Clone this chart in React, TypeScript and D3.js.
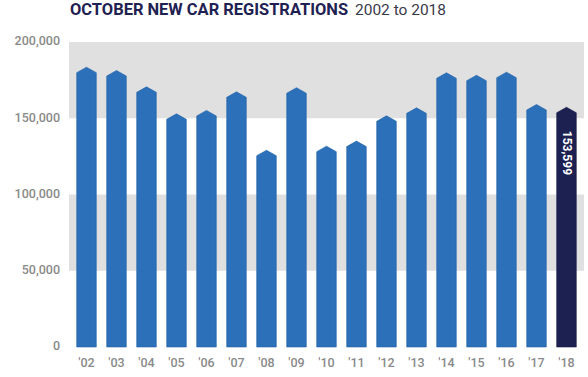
import React from "react";
import * as d3 from "d3";

const years = ["'02", "'03", "'04", "'05", "'06", "'07", "'08", "'09", "'10", "'11", "'12", "'13", "'14", "'15", "'16", "'17", "'18"];
const registrations = [179900, 177700, 167000, 149300, 151500, 163700, 125400, 166400, 128100, 131400, 148000, 153200, 176200, 174600, 176600, 155400, 153599];
const yTicks = [0, 50000, 100000, 150000, 200000];
const bandRanges: [number, number][] = [[50000, 100000], [150000, 200000]];
const titleBold = "OCTOBER NEW CAR REGISTRATIONS";
const titleRest = "2002 to 2018";
const highlightLabel = "153,599";

const W = 588;
const H = 377;

export default function App() {
  const x = d3.scaleBand<string>().domain(years).range([69, 584]).paddingInner(0.347).paddingOuter(0.257);
  const y = d3.scaleLinear().domain([0, 200000]).range([347, 42]);
  const fmt = d3.format(",");
  const bw = x.bandwidth();
  const tip = 5.5;
  const last = years.length - 1;

  return (
    <svg width={W} height={H} style={{ position: "absolute", left: 0, top: 0, background: "#fff" }} fontFamily="Roboto, 'DejaVu Sans', sans-serif">
      <text x={70} y={15} fontSize={16.8} fontWeight={700} fill="#1e2152" textLength={278} lengthAdjust="spacingAndGlyphs">
        {titleBold}
      </text>
      <text x={355} y={15} fontSize={15.5} fontWeight={400} fill="#3a3a4a" textLength={91} lengthAdjust="spacingAndGlyphs">
        {titleRest}
      </text>
      {bandRanges.map(([a, b], i) => (
        <rect key={i} x={69} y={y(b)} width={584 - 69} height={y(a) - y(b)} fill="#e1e0e1" />
      ))}
      {yTicks.map((t) => (
        <text key={t} x={60} y={y(t)} textAnchor="end" dominantBaseline="middle" fontSize={12.5} fontWeight={500} fill="#8a8a8a">
          {fmt(t)}
        </text>
      ))}
      {registrations.map((v, i) => {
        const x0 = x(years[i])!;
        const x1 = x0 + bw;
        const top = y(v);
        const base = y(0);
        const d = `M${x0},${base}L${x0},${top}L${x0 + bw / 2},${top - tip}L${x1},${top}L${x1},${base}Z`;
        const isLast = i === last;
        return (
          <path key={years[i]} d={d} fill={isLast ? "#1c2152" : "#2b70b8"} stroke={isLast ? "#161a45" : "#2463a8"} strokeWidth={0.6} />
        );
      })}
      {years.map((yr) => (
        <text key={yr} x={x(yr)! + bw / 2} y={367} textAnchor="middle" fontSize={12.5} fontWeight={500} fill="#8a8a8a">
          {yr}
        </text>
      ))}
      <text
        transform={`translate(${x(years[last])! + bw / 2},${y(registrations[last]) + 18}) rotate(90)`}
        textAnchor="start"
        dominantBaseline="middle"
        fontSize={12}
        fontWeight={700}
        fill="#ffffff"
      >
        {highlightLabel}
      </text>
    </svg>
  );
}
